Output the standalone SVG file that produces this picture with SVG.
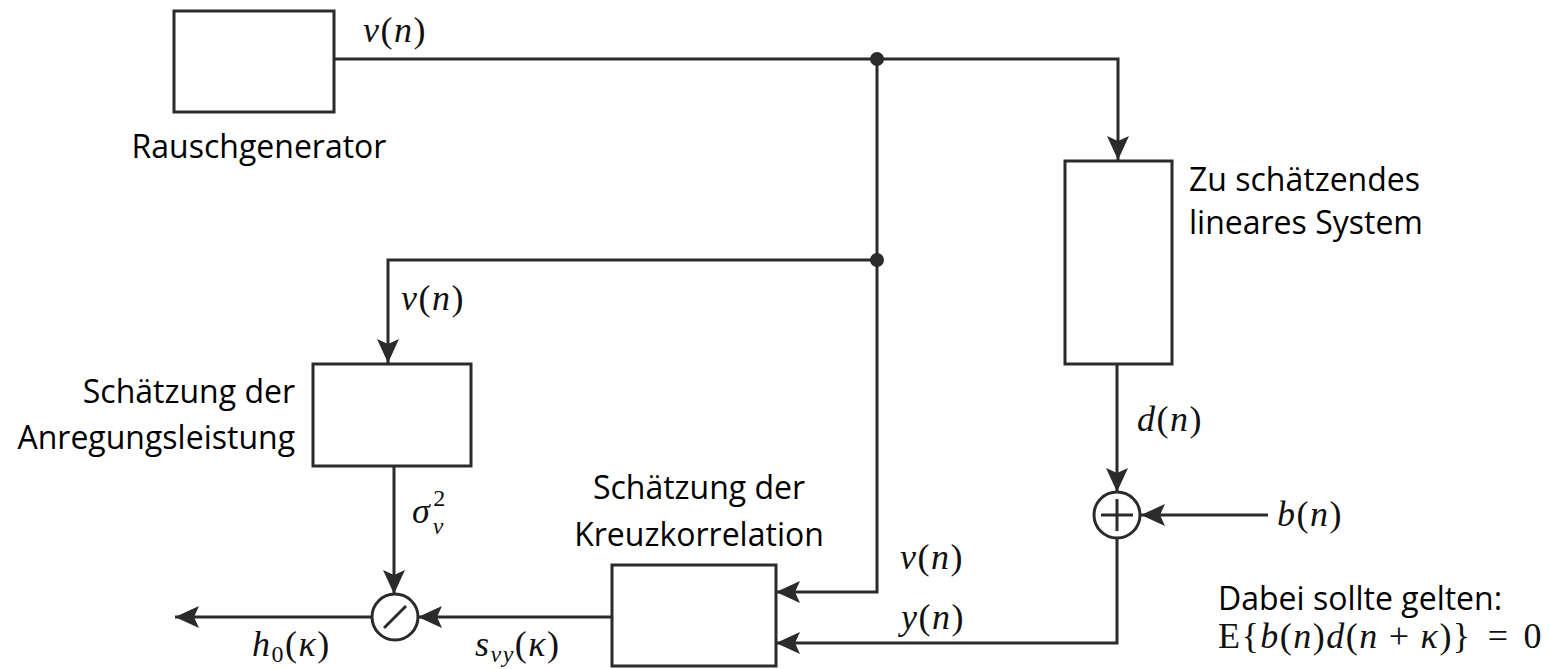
<svg xmlns="http://www.w3.org/2000/svg" width="1549" height="669" viewBox="0 0 1549 669">
<defs>
<marker id="arr" markerUnits="userSpaceOnUse" viewBox="0 0 24 22" refX="24" refY="11" markerWidth="24" markerHeight="22" orient="auto">
<path d="M0,0 L24,11 L0,22 L5,11 Z" fill="#2b2b2b"/>
</marker>
<style>
.box{fill:#fff;stroke:#2b2b2b;stroke-width:3}
.ln{fill:none;stroke:#2b2b2b;stroke-width:3}
.lbl{font-family:"Open Sans","Noto Sans",sans-serif;font-size:32px;fill:#000}
.m{font-family:"Liberation Serif","DejaVu Serif",serif;font-size:36px;fill:#111;letter-spacing:1.5px}
.i{font-style:italic}
.dot{fill:#2b2b2b}
</style>
</defs>
<rect width="1549" height="669" fill="#fff"/>
<g id="connectors">
<path class="ln" d="M334,59 H1118 V160" marker-end="url(#arr)"/>
<path class="ln" d="M877,59 V592 H776" marker-end="url(#arr)"/>
<path class="ln" d="M877,260 H388 V363" marker-end="url(#arr)"/>
<path class="ln" d="M1117,364 V492" marker-end="url(#arr)"/>
<path class="ln" d="M1268,515 H1141" marker-end="url(#arr)"/>
<path class="ln" d="M1117,538 V643 H776" marker-end="url(#arr)"/>
<path class="ln" d="M394,466 V594" marker-end="url(#arr)"/>
<path class="ln" d="M612,617 H418" marker-end="url(#arr)"/>
<path class="ln" d="M372,617 H175" marker-end="url(#arr)"/>
<circle class="dot" cx="877" cy="59" r="7"/>
<circle class="dot" cx="877" cy="260" r="7"/>
</g>
<g id="rauschgenerator">
<rect class="box" x="174" y="11" width="160" height="101"/>
<text class="lbl" x="259" y="158" text-anchor="middle">Rauschgenerator</text>
</g>
<g id="system">
<rect class="box" x="1065" y="161" width="107" height="203"/>
<text class="lbl" x="1189" y="191">Zu schätzendes</text>
<text class="lbl" x="1189" y="234">lineares System</text>
</g>
<g id="anregung">
<rect class="box" x="313" y="364" width="158" height="102"/>
<text class="lbl" x="295" y="403" text-anchor="end">Schätzung der</text>
<text class="lbl" x="295" y="449" text-anchor="end">Anregungsleistung</text>
</g>
<g id="kreuz">
<rect class="box" x="612" y="565" width="164" height="101"/>
<text class="lbl" x="699" y="499" text-anchor="middle">Schätzung der</text>
<text class="lbl" x="699" y="546" text-anchor="middle">Kreuzkorrelation</text>
</g>
<g id="adder">
<circle class="box" cx="1117" cy="515" r="23"/>
<path class="ln" d="M1101,515 H1133 M1117,499 V531"/>
</g>
<g id="divider">
<circle class="box" cx="395" cy="617" r="23"/>
<path class="ln" d="M384,628 L406,606"/>
</g>
<g id="labels">
<text class="m" x="363" y="42"><tspan class="i">v</tspan>(<tspan class="i">n</tspan>)</text>
<text class="m" x="401" y="310"><tspan class="i">v</tspan>(<tspan class="i">n</tspan>)</text>
<text class="m" x="1137" y="431"><tspan class="i">d</tspan>(<tspan class="i">n</tspan>)</text>
<text class="m" x="1277" y="526"><tspan class="i">b</tspan>(<tspan class="i">n</tspan>)</text>
<text class="m" x="412" y="523"><tspan class="i">σ</tspan><tspan font-size="24" dy="-17" dx="2">2</tspan><tspan class="i" font-size="24" dx="-14" dy="28">v</tspan></text>
<text class="m" x="252" y="656"><tspan class="i">h</tspan><tspan font-size="24" dy="6">0</tspan><tspan dy="-6">(</tspan><tspan class="i">κ</tspan>)</text>
<text class="m" x="475" y="656"><tspan class="i">s</tspan><tspan class="i" font-size="24" dy="6">vy</tspan><tspan dy="-6">(</tspan><tspan class="i">κ</tspan>)</text>
<text class="m" x="900" y="569"><tspan class="i">v</tspan>(<tspan class="i">n</tspan>)</text>
<text class="m" x="901" y="629"><tspan class="i">y</tspan>(<tspan class="i">n</tspan>)</text>
<text class="lbl" x="1218" y="610">Dabei sollte gelten:</text>
<text class="m" x="1218" y="648">E{<tspan class="i">b</tspan>(<tspan class="i">n</tspan>)<tspan class="i">d</tspan>(<tspan class="i">n</tspan><tspan dx="10">+</tspan><tspan class="i" dx="10">κ</tspan>)}<tspan dx="16">=</tspan><tspan dx="14">0</tspan></text>
</g>
</svg>
